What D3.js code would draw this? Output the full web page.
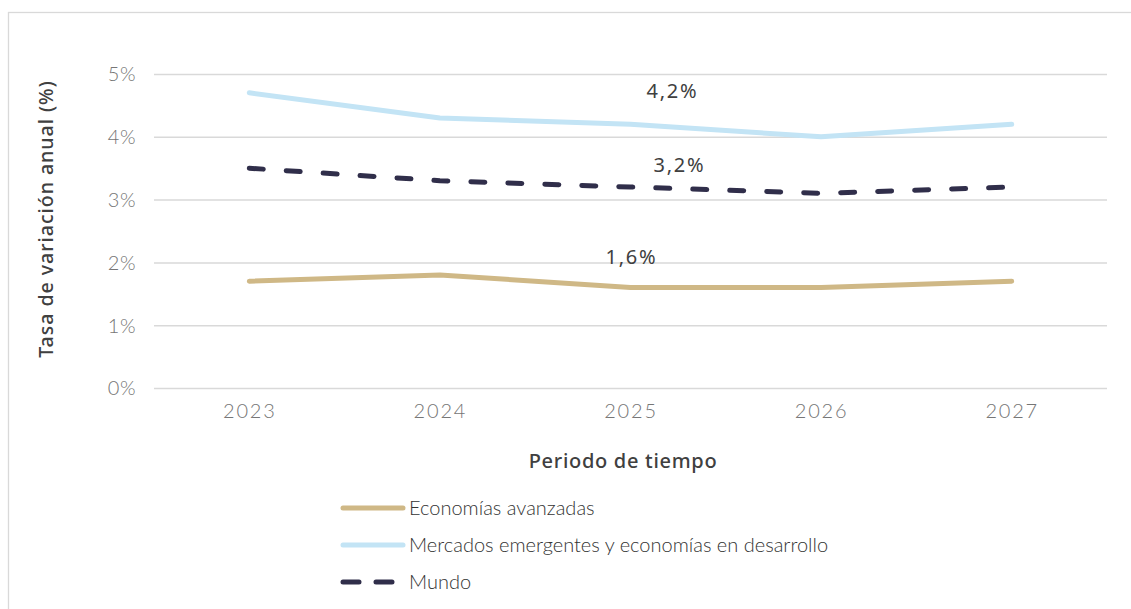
<!DOCTYPE html>
<html>
<head>
<meta charset="utf-8">
<script src="https://cdn.jsdelivr.net/npm/d3@7"></script>
<style>
  body { margin: 0; background: #fff; }
  svg { display: block; }
</style>
</head>
<body>
<svg id="chart" width="1131" height="609"></svg>
<script>
// chart values
let years = ["2023", "2024", "2025", "2026", "2027"]
let avanzadas = [1.7, 1.8, 1.6, 1.6, 1.7]
let emergentes = [4.7, 4.3, 4.2, 4.0, 4.2]
let mundo = [3.5, 3.3, 3.2, 3.1, 3.2]
let yTicks = [0, 1, 2, 3, 4, 5]

let seriesNames = ["Economías avanzadas", "Mercados emergentes y economías en desarrollo", "Mundo"]
// label shown for index 2 (2025) of each series
let labelIndex = 2

let series = [
    { name: seriesNames[0], values: avanzadas, color: "#cfb886", dash: null, lab: { dx: 1, dy: -24 } },
    { name: seriesNames[1], values: emergentes, color: "#c3e4f5", dash: null, lab: { dx: 42, dy: -26 } },
    { name: seriesNames[2], values: mundo, color: "#302e4a", dash: "14,23", lab: { dx: 49, dy: -15 } }
]

let svg = d3.select("#chart")
let W = 1131
let margin = { left: 154, right: 24 }
let titleFont = "'Noto Sans', sans-serif"

// outer frame (only left and top edges visible)
svg.append("rect")
    .attr("x", 8.5).attr("y", 12.5)
    .attr("width", 1200).attr("height", 700)
    .attr("fill", "none")
    .attr("stroke", "#d9d9d9")
    .attr("stroke-width", 1.3)

let x = d3.scalePoint()
    .domain(years)
    .range([margin.left, W - margin.right])
    .padding(0.5)

let y = d3.scaleLinear()
    .domain([0, 5])
    .range([388, 74])

// grid + y ticks
let yAxis = d3.axisLeft(y)
    .tickValues(yTicks)
    .tickSize(-(W - margin.right - margin.left))
    .tickPadding(18)
    .tickFormat(d => d + "%")

let gy = svg.append("g")
    .attr("transform", `translate(${margin.left},0)`)
    .call(yAxis)
gy.select(".domain").remove()
gy.selectAll(".tick line").attr("stroke", "#d9d9d9").attr("stroke-width", 1.5)
gy.selectAll(".tick text")
    .attr("fill", "#767676")
    .style("font-family", "Lato")
    .style("font-weight", 300)
    .style("font-size", "20px")
    .style("letter-spacing", "0.5px")
    .attr("dy", "0.34em")

// x axis labels
let xAxis = d3.axisBottom(x).tickSize(0).tickPadding(16)
let gx = svg.append("g")
    .attr("transform", `translate(0,${y(0)})`)
    .call(xAxis)
gx.select(".domain").remove()
gx.selectAll(".tick text")
    .attr("fill", "#767676")
    .style("font-family", "Lato")
    .style("font-weight", 300)
    .style("font-size", "20px")
    .style("letter-spacing", "1.8px")

// axis titles
svg.append("text")
    .attr("transform", "translate(53,219) rotate(-90)")
    .attr("text-anchor", "middle")
    .attr("fill", "#404040")
    .style("font-family", titleFont)
    .style("font-weight", 500)
    .style("font-size", "19.5px")
    .style("letter-spacing", "1px")
    .text("Tasa de variación anual (%)")

svg.append("text")
    .attr("x", 623).attr("y", 468)
    .attr("text-anchor", "middle")
    .attr("fill", "#404040")
    .style("font-family", titleFont)
    .style("font-weight", 500)
    .style("font-size", "20px")
    .style("letter-spacing", "0.7px")
    .text("Periodo de tiempo")

// lines
let line = d3.line()
    .x((d, i) => x(years[i]))
    .y(d => y(d))

svg.selectAll(".serie")
    .data(series)
    .enter()
    .append("path")
        .attr("class", "serie")
        .attr("d", d => line(d.values))
        .attr("fill", "none")
        .attr("stroke", d => d.color)
        .attr("stroke-width", 5)
        .attr("stroke-linecap", "round")
        .attr("stroke-linejoin", "round")
        .attr("stroke-dasharray", d => d.dash)

// data labels
svg.selectAll(".dlabel")
    .data(series)
    .enter()
    .append("text")
        .attr("class", "dlabel")
        .attr("x", d => x(years[labelIndex]) + d.lab.dx)
        .attr("y", d => y(d.values[labelIndex]) + d.lab.dy)
        .attr("text-anchor", "middle")
        .attr("fill", "#404040")
        .style("font-family", titleFont)
        .style("font-size", "20px")
        .style("letter-spacing", "1.8px")
        .text(d => d3.format(".1f")(d.values[labelIndex]).replace(".", ",") + "%")

// legend
let legend = svg.append("g")
    .attr("transform", "translate(343,508)")

let items = legend.selectAll(".leg")
    .data(series)
    .enter()
    .append("g")
        .attr("class", "leg")
        .attr("transform", (d, i) => `translate(0,${i * 37})`)

items.append("line")
    .attr("x1", 0).attr("x2", 60)
    .attr("y1", 0).attr("y2", 0)
    .attr("stroke", d => d.color)
    .attr("stroke-width", 5)
    .attr("stroke-linecap", "round")
    .attr("stroke-dasharray", d => d.dash ? "16,17" : null)

items.append("text")
    .attr("x", 66)
    .attr("y", 0)
    .attr("dy", "0.35em")
    .attr("fill", "#333333")
    .style("font-family", "Lato")
    .style("font-weight", 300)
    .style("font-size", "20px")
    .text(d => d.name)
</script>
</body>
</html>
